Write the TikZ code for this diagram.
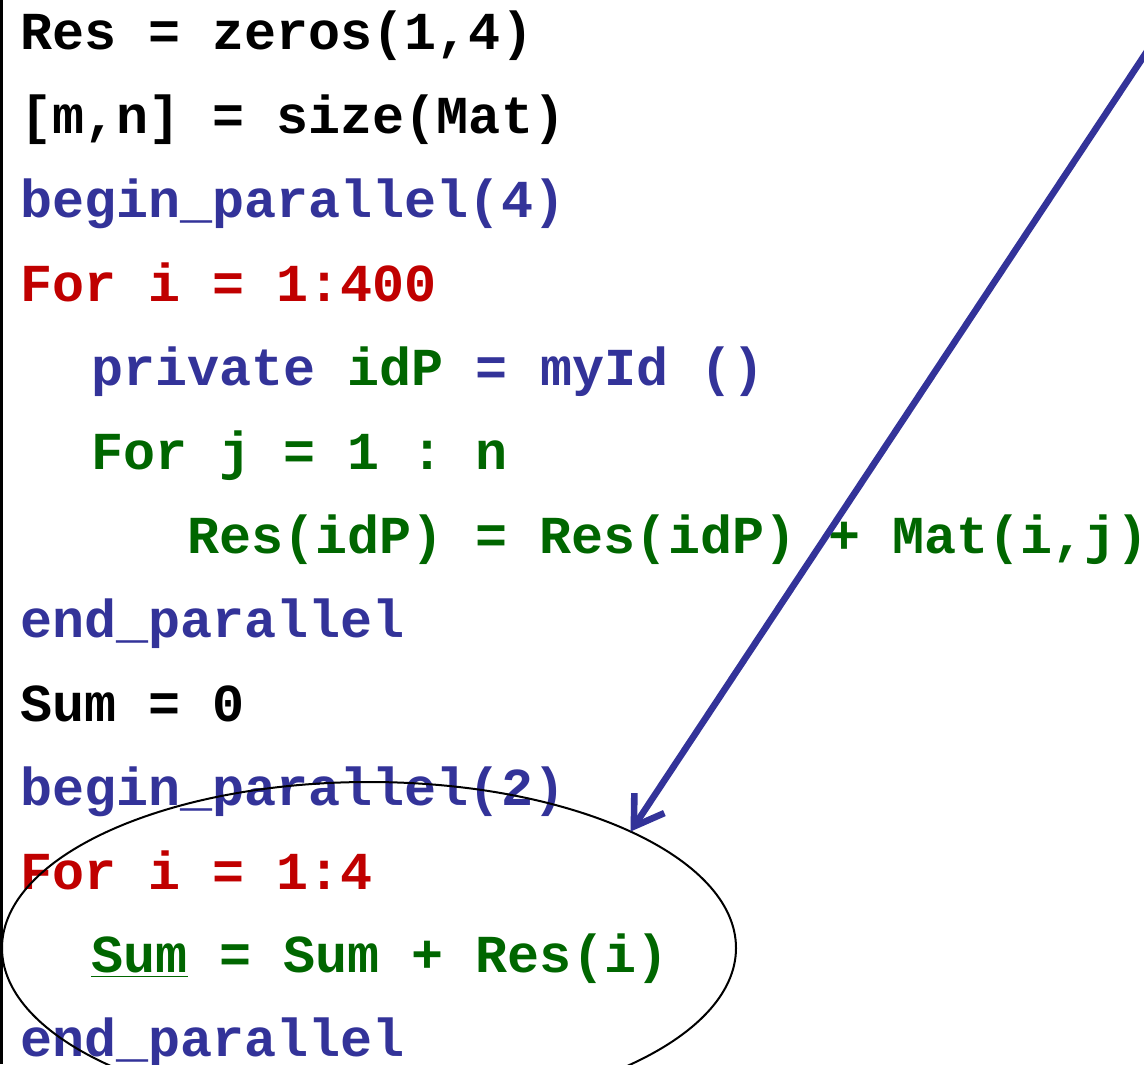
\documentclass[tikz,border=0pt]{standalone}
\usepackage{fontspec}
\setmonofont{Liberation Mono}
\usetikzlibrary{shapes.geometric,arrows.meta}
\definecolor{kwblue}{RGB}{51,51,153}
\definecolor{vargreen}{RGB}{0,102,0}
\definecolor{loopred}{RGB}{192,0,0}
\tikzset{
  code/.style={anchor=base west,inner sep=0pt,font=\ttfamily\bfseries\fontsize{26.7}{30}\selectfont},
  pointer/.style={draw=kwblue,line width=3.3pt,-{Straight Barb[length=14pt,width=18pt]}}
}
\begin{document}
\begin{tikzpicture}[x=0.5pt,y=-0.5pt]

  \useasboundingbox (0,0) rectangle (1144,1064);
  \clip (0,0) rectangle (1144,1064);

  \draw[line width=1.5pt] (1.5,0) -- (1.5,1064);

  \draw (20,50) node[code] (res) {Res = zeros(1,4)};
  \draw (20,133.9) node[code] (size) {[m,n] = size(Mat)};
  \draw (20,217.8) node[code,kwblue] (bp) {begin\_parallel(4)};
  \draw (20,301.7) node[code,loopred] (fori) {For i = 1:400};
  \draw (91,385.6) node[code,kwblue] (priv) {private \textcolor{vargreen}{idP} = myId ()};
  \draw (91,469.5) node[code,vargreen] (forj) {For j = 1 : n};
  \draw (187,553.4) node[code,vargreen] (acc) {Res(idP) = Res(idP) + Mat(i,j)};
  \draw (20,637.3) node[code,kwblue] (ep) {end\_parallel};
  \draw (20,721.2) node[code] (sum) {Sum = 0};
  \draw (20,805.1) node[code,kwblue] (bptwo) {begin\_parallel(2)};
  \draw (20,889) node[code,loopred] (forfour) {For i = 1:4};
  \draw (91,972.9) node[code,vargreen] (add) {\underline{Sum} = Sum + Res(i)};
  \draw (20,1056.8) node[code,kwblue] (eptwo) {end\_parallel};

  \node[draw,ellipse,line width=1pt,minimum width=367pt,minimum height=166pt,inner sep=0pt,outer sep=0pt] (loop) at (369,948) {};

  \coordinate (src) at (1181,0);
  \draw[pointer] (src) -- (loop.24.7);

\end{tikzpicture}
\end{document}
